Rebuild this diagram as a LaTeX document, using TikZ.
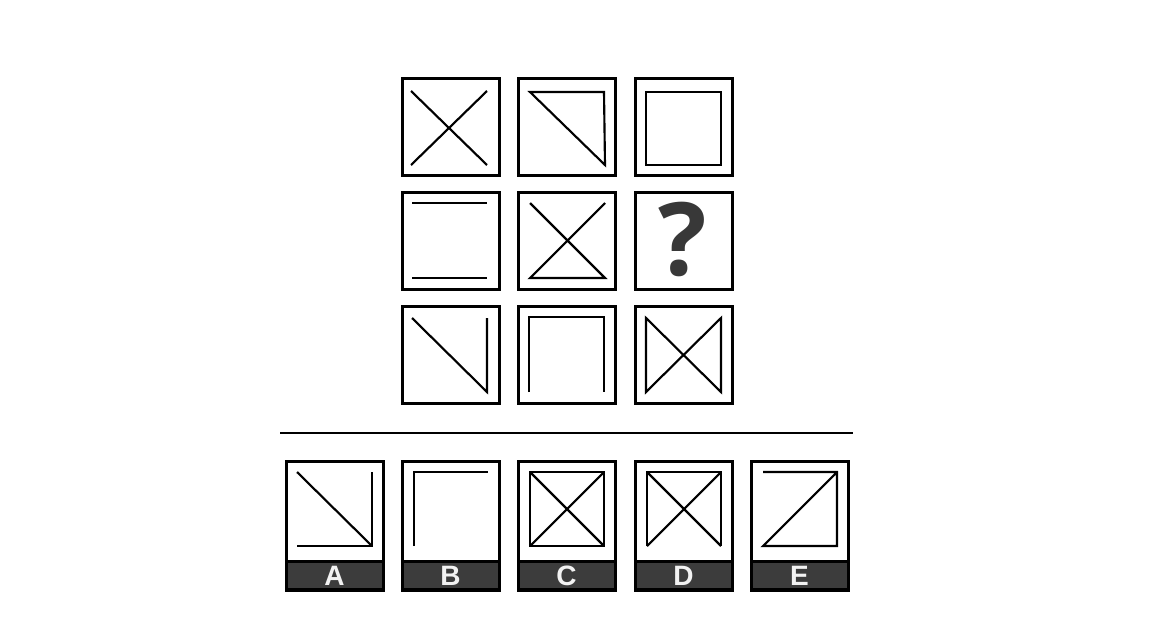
\documentclass[tikz,border=0pt]{standalone}
\usepackage{fontspec}
\setmainfont{Liberation Sans}
\newfontfamily\qfont{Open Sans}
\definecolor{barcol}{HTML}{3C3C3C}
\definecolor{qcol}{HTML}{383838}
\definecolor{letcol}{HTML}{F2F2F2}
\begin{document}
\begin{tikzpicture}[x=0.75pt,y=-0.75pt,
  cellbox/.style={draw=black,line width=2pt,minimum width=73pt,minimum height=73pt,inner sep=0pt,anchor=north west},
  optbox/.style={draw=black,line width=2pt,minimum width=72.75pt,minimum height=96.75pt,inner sep=0pt,anchor=north west},
  barbox/.style={fill=barcol,draw=black,line width=2pt,minimum width=72.75pt,minimum height=21.25pt,inner sep=0pt,anchor=north west},
  inner/.style={draw=black,line width=1.6pt},
  letter/.style={text=letcol,font=\fontsize{21}{24}\selectfont\bfseries,inner sep=0pt},
  qmark/.style={text=qcol,font=\qfont\fontsize{76}{80}\selectfont\bfseries,inner sep=0pt}]
\useasboundingbox (0,0) rectangle (1168,636);
% grid cells
\node[cellbox] (c11) at (401,77) {};
\node[cellbox] (c12) at (517,77) {};
\node[cellbox] (c13) at (634,77) {};
\node[cellbox] (c21) at (401,191) {};
\node[cellbox] (c22) at (517,191) {};
\node[cellbox] (c23) at (634,191) {};
\node[cellbox] (c31) at (401,305) {};
\node[cellbox] (c32) at (517,305) {};
\node[cellbox] (c33) at (634,305) {};
% contents row 1
\begin{scope}[shift={(401,77)}]
  \draw[inner] (10,14) -- (86,88);
  \draw[inner] (10,88) -- (86,14);
\end{scope}
\begin{scope}[shift={(517,77)}]
  \draw[inner] (13,15) -- (87,15) -- (88,88) -- cycle;
\end{scope}
\begin{scope}[shift={(634,77)}]
  \draw[inner] (12,15) rectangle (87,88);
\end{scope}
% row 2
\begin{scope}[shift={(401,191)}]
  \draw[inner] (11,12) -- (86,12);
  \draw[inner] (11,87) -- (86,87);
\end{scope}
\begin{scope}[shift={(517,191)}]
  \draw[inner] (13,12) -- (88,87) -- (13,87) -- (88,12);
\end{scope}
\node[qmark] (q) at (683,239) {?};
% row 3
\begin{scope}[shift={(401,305)}]
  \draw[inner] (11,13) -- (86,87) -- (86,13);
\end{scope}
\begin{scope}[shift={(517,305)}]
  \draw[inner] (12,87) -- (12,12) -- (87,12) -- (87,87);
\end{scope}
\begin{scope}[shift={(634,305)}]
  \draw[inner] (12,13) -- (87,87) -- (87,13) -- (12,87) -- cycle;
\end{scope}
% divider
\coordinate (dl) at (280,433);
\coordinate (dr) at (853,433);
\draw[line width=1.6pt] (dl) -- (dr);
% options
\foreach \x/\n in {285/A,401/B,517/C,634/D,750/E}{
  \node[optbox] (o\n) at (\x,460) {};
  \node[barbox] (b\n) at (\x,560) {};
  \node[letter] (l\n) at (\x+49.5,576) {\n};
}
\begin{scope}[shift={(285,460)}]
  \draw[inner] (12,12) -- (87,86);
  \draw[inner] (87,12) -- (87,86) -- (12,86);
\end{scope}
\begin{scope}[shift={(401,460)}]
  \draw[inner] (13,86) -- (13,12) -- (87,12);
\end{scope}
\begin{scope}[shift={(517,460)}]
  \draw[inner] (13,12) rectangle (87,86);
  \draw[inner] (13,12) -- (87,86);
  \draw[inner] (87,12) -- (13,86);
\end{scope}
\begin{scope}[shift={(634,460)}]
  \draw[inner] (13,86) -- (13,12) -- (87,12) -- (87,86);
  \draw[inner] (13,12) -- (87,86);
  \draw[inner] (87,12) -- (13,86);
\end{scope}
\begin{scope}[shift={(750,460)}]
  \draw[inner] (13,12) -- (87,12) -- (87,86) -- (13,86) -- (87,12);
\end{scope}
\end{tikzpicture}
\end{document}
